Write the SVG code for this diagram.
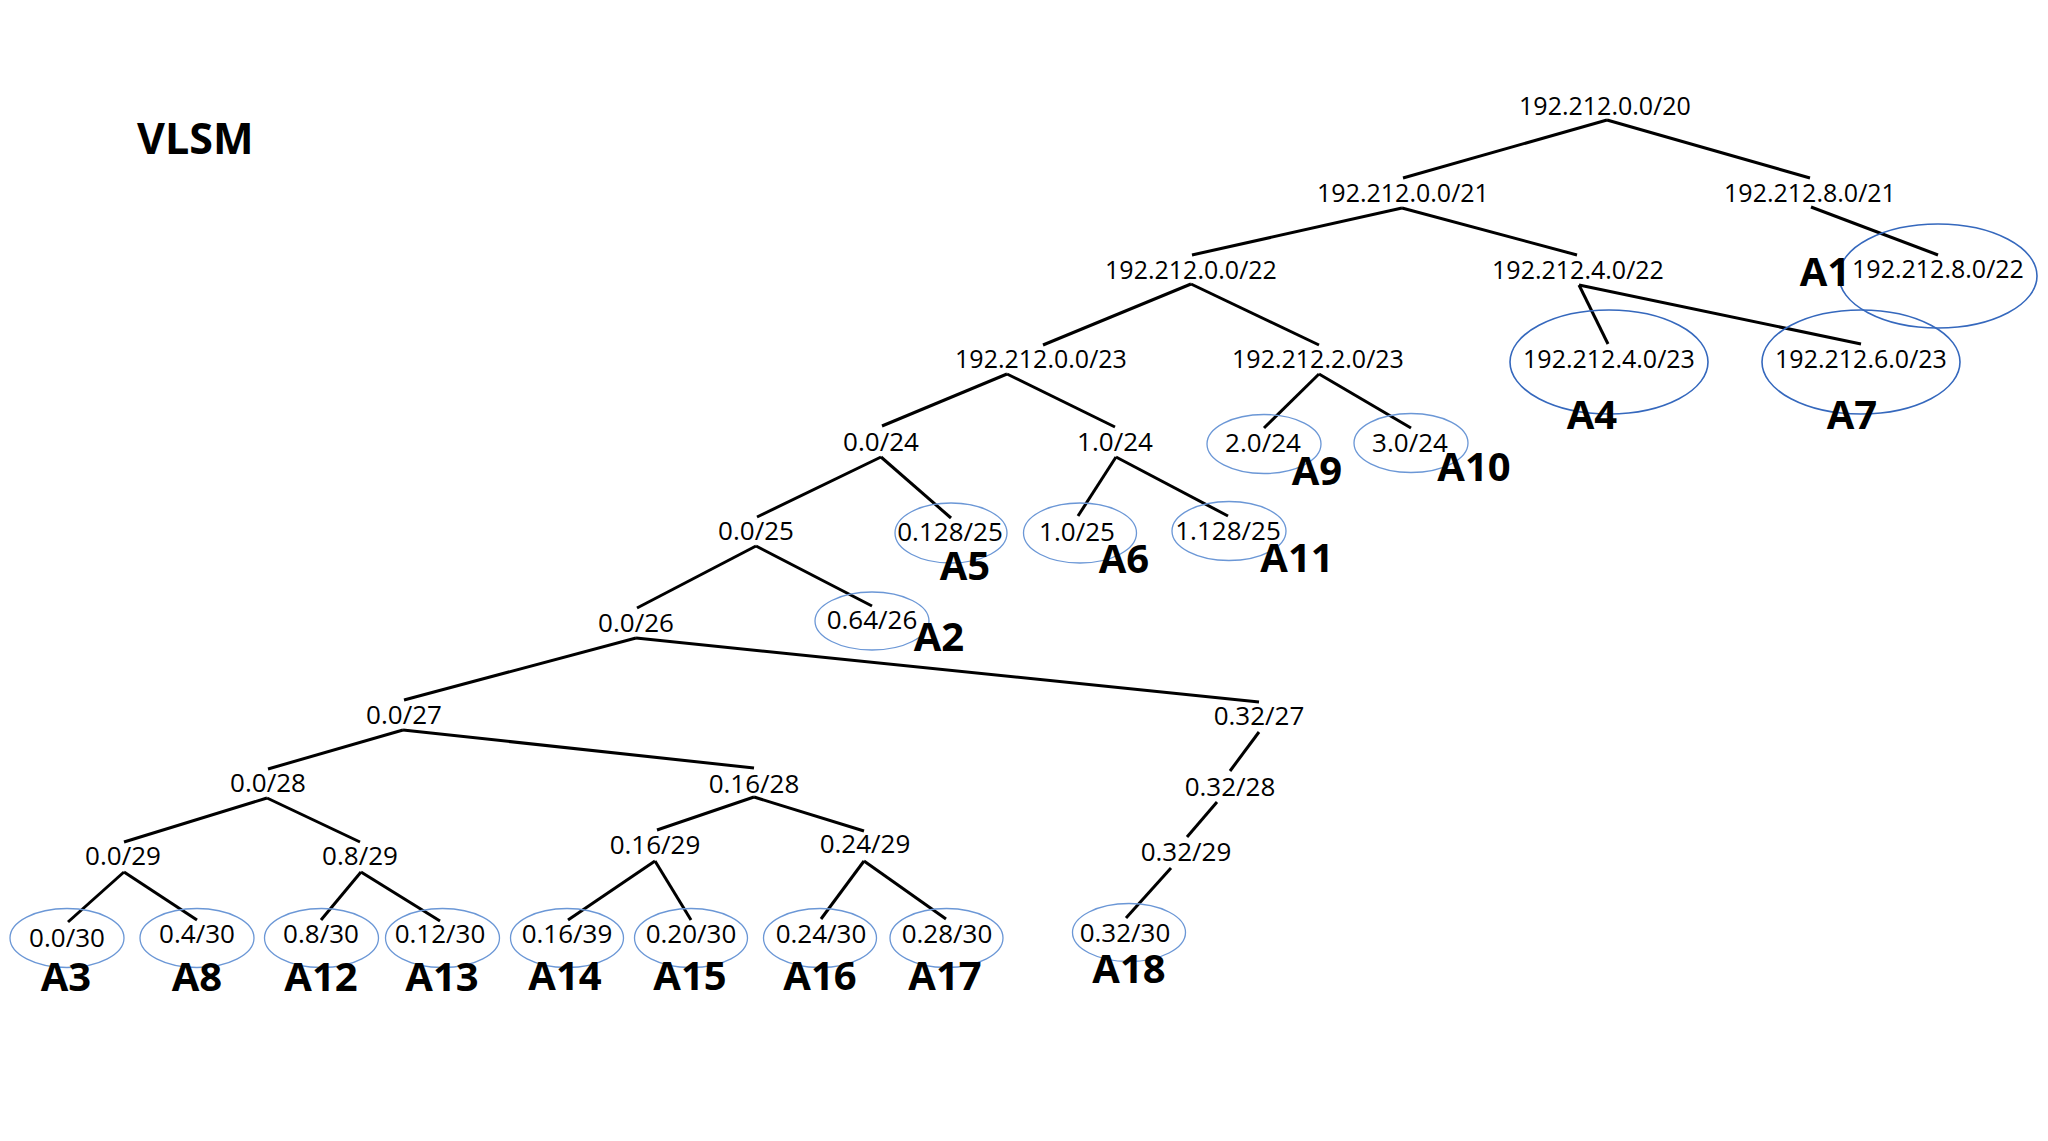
<svg xmlns="http://www.w3.org/2000/svg" width="2048" height="1141" viewBox="0 0 2048 1141">
  <style>
    .bg { fill: #ffffff; }
    .edge { stroke: #000000; stroke-width: 3; stroke-linecap: butt; fill: none; }
    .ip { font-family: "Open Sans", "Liberation Sans", sans-serif; font-size: 25px; fill: #000000; text-anchor: middle; }
    .sn { font-family: "Open Sans", "Liberation Sans", sans-serif; font-size: 26px; fill: #000000; text-anchor: middle; }
    .tag { font-family: "Open Sans", "Liberation Sans", sans-serif; font-size: 40px; font-weight: 700; fill: #000000; text-anchor: middle; }
    .title { font-family: "Open Sans", "Liberation Sans", sans-serif; font-size: 43px; font-weight: 700; fill: #000000; }
    .ring { fill: none; stroke: #6b97d6; stroke-width: 1.3; }
    .ring-lg { fill: none; stroke: #3568bd; stroke-width: 1.6; }
  </style>

  <rect class="bg" x="0" y="0" width="2048" height="1141"/>

  <text class="title" x="137" y="154">VLSM</text>

  <!-- tree edges -->
  <g id="connectors">
    <line class="edge" x1="1607" y1="120" x2="1403" y2="178"/>
    <line class="edge" x1="1607" y1="120" x2="1810" y2="178"/>
    <line class="edge" x1="1402" y1="208" x2="1192" y2="255"/>
    <line class="edge" x1="1402" y1="208" x2="1577" y2="255"/>
    <line class="edge" x1="1811" y1="207" x2="1938" y2="255"/>
    <line class="edge" x1="1191" y1="284" x2="1043" y2="345"/>
    <line class="edge" x1="1191" y1="284" x2="1319" y2="345"/>
    <line class="edge" x1="1579" y1="285" x2="1608" y2="344"/>
    <line class="edge" x1="1579" y1="285" x2="1861" y2="344"/>
    <line class="edge" x1="1007" y1="374" x2="882" y2="426"/>
    <line class="edge" x1="1007" y1="374" x2="1115" y2="427"/>
    <line class="edge" x1="1319" y1="374" x2="1264" y2="428"/>
    <line class="edge" x1="1319" y1="374" x2="1411" y2="428"/>
    <line class="edge" x1="881" y1="457" x2="757" y2="517"/>
    <line class="edge" x1="881" y1="457" x2="951" y2="518"/>
    <line class="edge" x1="1116" y1="457" x2="1078" y2="516"/>
    <line class="edge" x1="1116" y1="457" x2="1228" y2="516"/>
    <line class="edge" x1="756" y1="546" x2="637" y2="608"/>
    <line class="edge" x1="756" y1="546" x2="872" y2="606"/>
    <line class="edge" x1="636" y1="638" x2="404" y2="700"/>
    <line class="edge" x1="636" y1="638" x2="1259" y2="702"/>
    <line class="edge" x1="403" y1="730" x2="268" y2="769"/>
    <line class="edge" x1="403" y1="730" x2="754" y2="768"/>
    <line class="edge" x1="1259" y1="732" x2="1230" y2="771"/>
    <line class="edge" x1="267" y1="798" x2="124" y2="842"/>
    <line class="edge" x1="267" y1="798" x2="360" y2="842"/>
    <line class="edge" x1="754" y1="797" x2="657" y2="830"/>
    <line class="edge" x1="754" y1="797" x2="864" y2="831"/>
    <line class="edge" x1="1217" y1="802" x2="1187" y2="837"/>
    <line class="edge" x1="124" y1="872" x2="68" y2="922"/>
    <line class="edge" x1="124" y1="872" x2="197" y2="920"/>
    <line class="edge" x1="361" y1="872" x2="321" y2="920"/>
    <line class="edge" x1="361" y1="872" x2="440" y2="921"/>
    <line class="edge" x1="655" y1="861" x2="568" y2="920"/>
    <line class="edge" x1="655" y1="861" x2="691" y2="920"/>
    <line class="edge" x1="864" y1="861" x2="821" y2="919"/>
    <line class="edge" x1="864" y1="861" x2="946" y2="919"/>
    <line class="edge" x1="1171" y1="868" x2="1126" y2="918"/>
  </g>

  <!-- internal subnets -->
  <g id="n-0-0-20"><text class="ip" x="1605" y="115">192.212.0.0/20</text></g>
  <g id="n-0-0-21"><text class="ip" x="1403" y="202">192.212.0.0/21</text></g>
  <g id="n-8-0-21"><text class="ip" x="1810" y="202">192.212.8.0/21</text></g>
  <g id="n-0-0-22"><text class="ip" x="1191" y="279">192.212.0.0/22</text></g>
  <g id="n-4-0-22"><text class="ip" x="1578" y="279">192.212.4.0/22</text></g>
  <g id="n-0-0-23"><text class="ip" x="1041" y="368">192.212.0.0/23</text></g>
  <g id="n-2-0-23"><text class="ip" x="1318" y="368">192.212.2.0/23</text></g>
  <g id="n-0-0-24"><text class="sn" x="881" y="451">0.0/24</text></g>
  <g id="n-1-0-24"><text class="sn" x="1115" y="451">1.0/24</text></g>
  <g id="n-0-0-25"><text class="sn" x="756" y="540">0.0/25</text></g>
  <g id="n-0-0-26"><text class="sn" x="636" y="632">0.0/26</text></g>
  <g id="n-0-0-27"><text class="sn" x="404" y="724">0.0/27</text></g>
  <g id="n-0-32-27"><text class="sn" x="1259" y="725">0.32/27</text></g>
  <g id="n-0-0-28"><text class="sn" x="268" y="792">0.0/28</text></g>
  <g id="n-0-16-28"><text class="sn" x="754" y="793">0.16/28</text></g>
  <g id="n-0-32-28"><text class="sn" x="1230" y="796">0.32/28</text></g>
  <g id="n-0-0-29"><text class="sn" x="123" y="865">0.0/29</text></g>
  <g id="n-0-8-29"><text class="sn" x="360" y="865">0.8/29</text></g>
  <g id="n-0-16-29"><text class="sn" x="655" y="854">0.16/29</text></g>
  <g id="n-0-24-29"><text class="sn" x="865" y="853">0.24/29</text></g>
  <g id="n-0-32-29"><text class="sn" x="1186" y="861">0.32/29</text></g>

  <!-- allocated subnets -->
  <g id="a1">
    <ellipse class="ring-lg" cx="1938" cy="276" rx="99" ry="52"/>
    <text class="ip" x="1938" y="278">192.212.8.0/22</text>
    <text class="tag" x="1825" y="286">A1</text>
  </g>
  <g id="a4">
    <ellipse class="ring-lg" cx="1609" cy="362" rx="99" ry="52"/>
    <text class="ip" x="1609" y="368">192.212.4.0/23</text>
    <text class="tag" x="1592" y="429">A4</text>
  </g>
  <g id="a7">
    <ellipse class="ring-lg" cx="1861" cy="362" rx="99" ry="52"/>
    <text class="ip" x="1861" y="368">192.212.6.0/23</text>
    <text class="tag" x="1852" y="429">A7</text>
  </g>
  <g id="a9">
    <ellipse class="ring" cx="1264" cy="444" rx="57" ry="29.5"/>
    <text class="sn" x="1263" y="452">2.0/24</text>
    <text class="tag" x="1317" y="485">A9</text>
  </g>
  <g id="a10">
    <ellipse class="ring" cx="1411" cy="443" rx="57" ry="29.5"/>
    <text class="sn" x="1410" y="452">3.0/24</text>
    <text class="tag" x="1474" y="481">A10</text>
  </g>
  <g id="a5">
    <ellipse class="ring" cx="951" cy="533" rx="56" ry="30"/>
    <text class="sn" x="950" y="541">0.128/25</text>
    <text class="tag" x="965" y="580">A5</text>
  </g>
  <g id="a6">
    <ellipse class="ring" cx="1080" cy="533" rx="56.5" ry="30"/>
    <text class="sn" x="1077" y="541">1.0/25</text>
    <text class="tag" x="1124" y="573">A6</text>
  </g>
  <g id="a11">
    <ellipse class="ring" cx="1229" cy="531" rx="57" ry="29.5"/>
    <text class="sn" x="1228" y="540">1.128/25</text>
    <text class="tag" x="1297" y="572">A11</text>
  </g>
  <g id="a2">
    <ellipse class="ring" cx="872" cy="621" rx="57" ry="29"/>
    <text class="sn" x="872" y="629">0.64/26</text>
    <text class="tag" x="939" y="651">A2</text>
  </g>
  <g id="a3">
    <ellipse class="ring" cx="67" cy="938" rx="57" ry="29.5"/>
    <text class="sn" x="67" y="947">0.0/30</text>
    <text class="tag" x="66" y="991">A3</text>
  </g>
  <g id="a8">
    <ellipse class="ring" cx="197" cy="938" rx="57" ry="29.5"/>
    <text class="sn" x="197" y="943">0.4/30</text>
    <text class="tag" x="197" y="991">A8</text>
  </g>
  <g id="a12">
    <ellipse class="ring" cx="321.5" cy="938" rx="57" ry="29.5"/>
    <text class="sn" x="321" y="943">0.8/30</text>
    <text class="tag" x="321" y="991">A12</text>
  </g>
  <g id="a13">
    <ellipse class="ring" cx="442.5" cy="938" rx="57" ry="29.5"/>
    <text class="sn" x="440" y="943">0.12/30</text>
    <text class="tag" x="442" y="991">A13</text>
  </g>
  <g id="a14">
    <ellipse class="ring" cx="567" cy="938" rx="56.5" ry="29.5"/>
    <text class="sn" x="567" y="943">0.16/39</text>
    <text class="tag" x="565" y="990">A14</text>
  </g>
  <g id="a15">
    <ellipse class="ring" cx="691" cy="938" rx="56.5" ry="29.5"/>
    <text class="sn" x="691" y="943">0.20/30</text>
    <text class="tag" x="690" y="990">A15</text>
  </g>
  <g id="a16">
    <ellipse class="ring" cx="820" cy="938" rx="56.5" ry="29.5"/>
    <text class="sn" x="821" y="943">0.24/30</text>
    <text class="tag" x="820" y="990">A16</text>
  </g>
  <g id="a17">
    <ellipse class="ring" cx="946.5" cy="938" rx="56.5" ry="29.5"/>
    <text class="sn" x="947" y="943">0.28/30</text>
    <text class="tag" x="945" y="990">A17</text>
  </g>
  <g id="a18">
    <ellipse class="ring" cx="1129" cy="932.5" rx="56.5" ry="29"/>
    <text class="sn" x="1125" y="942">0.32/30</text>
    <text class="tag" x="1129" y="983">A18</text>
  </g>
</svg>
